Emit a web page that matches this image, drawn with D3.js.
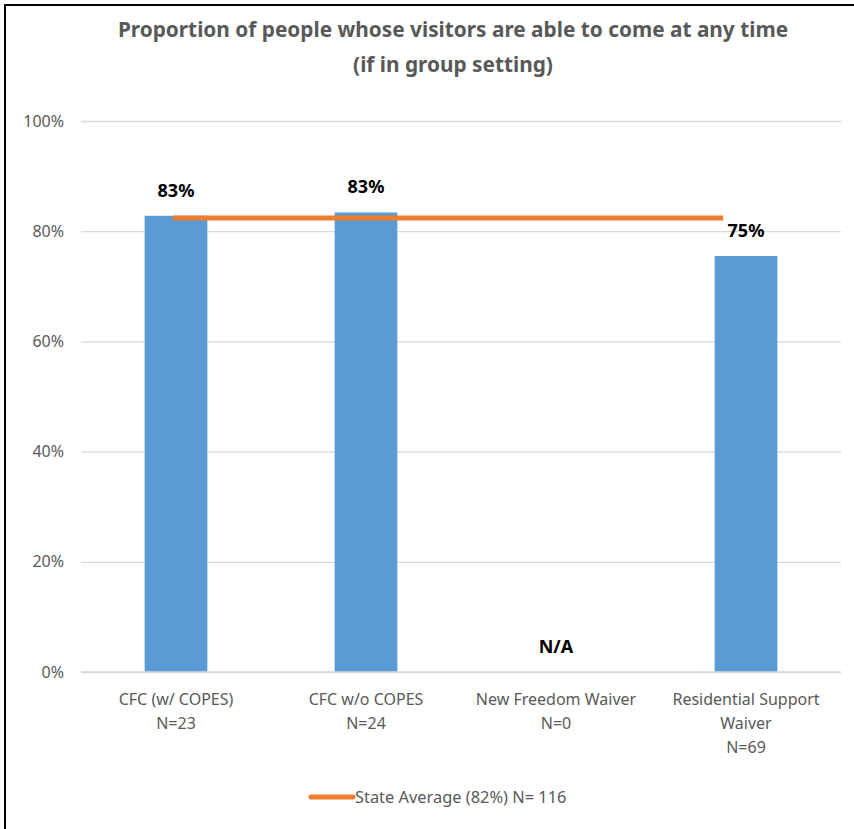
<!DOCTYPE html>
<html><head><meta charset="utf-8">
<script src="https://cdn.jsdelivr.net/npm/d3@7"></script>
<style>body{margin:0;background:#fff}svg{display:block}</style>
</head><body>
<script>
const categories = ["CFC (w/ COPES)|N=23", "CFC w/o COPES|N=24", "New Freedom Waiver|N=0", "Residential Support|Waiver|N=69"];
const values = [0.828, 0.834, null, 0.755];
const valueLabels = ["83%", "83%", "N/A", "75%"];
const stateAverage = 0.824;
const legendLabel = "State Average (82%) N= 116";
const yTicks = [0, 0.2, 0.4, 0.6, 0.8, 1.0];
const titleLines = ["Proportion of people whose visitors are able to come at any time", "(if in group setting)"];

const W = 854, H = 829;
const font = "'Noto Sans', sans-serif";
const svg = d3.select("body").append("svg").attr("width", W).attr("height", H);
svg.append("rect").attr("width", W).attr("height", H).attr("fill", "#fff");
// frame (top and left visible)
svg.append("rect").attr("x", 5).attr("y", 5).attr("width", W + 20).attr("height", H + 20)
  .attr("fill", "none").attr("stroke", "#000").attr("stroke-width", 2);

const margin = {left: 81, right: 13, top: 121, bottom: 157};
const x = d3.scaleBand().domain(categories).range([margin.left, W - margin.right]).paddingInner(0.67).paddingOuter(0.335);
const y = d3.scaleLinear().domain([0, 1]).range([H - margin.bottom, margin.top]);

// title
svg.append("g").selectAll("text").data(titleLines).join("text")
  .attr("x", 453).attr("y", (d, i) => 37 + i * 35)
  .attr("text-anchor", "middle").attr("font-family", font).attr("font-size", 20.8).attr("font-weight", "bold")
  .attr("fill", "#595959").text(d => d);

// gridlines + y axis
const yAxis = d3.axisLeft(y).tickValues(yTicks).tickFormat(d3.format(".0%")).tickSize(-(W - margin.right - margin.left)).tickPadding(17);
const gy = svg.append("g").attr("transform", `translate(${margin.left},0)`).call(yAxis);
gy.select(".domain").remove();
gy.selectAll(".tick line").attr("stroke", "#d9d9d9").attr("stroke-width", 1.3);
gy.selectAll(".tick text").attr("font-family", font).attr("font-size", 16).attr("fill", "#595959");

// bars
svg.append("g").selectAll("rect").data(categories.map((c, i) => ({c, v: values[i]})).filter(d => d.v != null)).join("rect")
  .attr("x", d => x(d.c)).attr("y", d => y(d.v)).attr("width", x.bandwidth()).attr("height", d => y(0) - y(d.v))
  .attr("fill", "#5b9bd5");

// baseline
svg.append("line").attr("x1", margin.left).attr("x2", W - margin.right).attr("y1", y(0)).attr("y2", y(0))
  .attr("stroke", "#d9d9d9").attr("stroke-width", 1.3);

// state average line
const cx = c => x(c) + x.bandwidth() / 2;
svg.append("line")
  .attr("x1", cx(categories[0]) - 3).attr("x2", cx(categories[3]) - x.step() * 0.12)
  .attr("y1", y(stateAverage)).attr("y2", y(stateAverage))
  .attr("stroke", "#ed7d31").attr("stroke-width", 5);

// value labels
svg.append("g").selectAll("text").data(categories.map((c, i) => ({c, v: values[i], l: valueLabels[i]}))).join("text")
  .attr("x", d => cx(d.c)).attr("y", d => (d.v == null ? y(0) : y(d.v)) - 19)
  .attr("text-anchor", "middle").attr("font-family", font).attr("font-size", 18).attr("font-weight", "bold")
  .attr("fill", "#000").text(d => d.l);

// x labels
const gx = svg.append("g");
categories.forEach(c => {
  const t = gx.append("text").attr("x", cx(c)).attr("y", y(0) + 33).attr("text-anchor", "middle")
    .attr("font-family", font).attr("font-size", 16).attr("fill", "#595959");
  c.split("|").forEach((s, i) => t.append("tspan").attr("x", cx(c)).attr("dy", i === 0 ? 0 : 24).text(s));
});

// legend
svg.append("line").attr("x1", 311).attr("x2", 353).attr("y1", 797).attr("y2", 797)
  .attr("stroke", "#ed7d31").attr("stroke-width", 5).attr("stroke-linecap", "round");
svg.append("text").attr("x", 355).attr("y", 803).attr("font-family", font).attr("font-size", 16.4)
  .attr("fill", "#595959").text(legendLabel);
</script>
</body></html>
